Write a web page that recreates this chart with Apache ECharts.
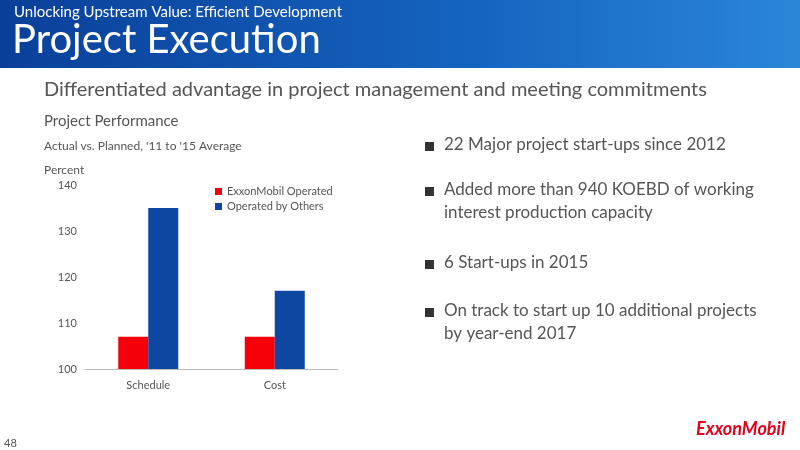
<!DOCTYPE html>
<html><head><meta charset="utf-8">
<script src="https://cdn.jsdelivr.net/npm/echarts@6/dist/echarts.min.js"></script>
<style>html,body{margin:0;padding:0;background:#fff}#c{width:800px;height:450px}</style>
</head><body><div id="c"></div>
<script>
const categories = ['Schedule', 'Cost'];
const exxonOperated = [107, 107];
const othersOperated = [135, 117];
const yTicks = [100, 110, 120, 130, 140];
const bullets = [
  ['22 Major project start-ups since 2012'],
  ['Added more than 940 KOEBD of working', 'interest production capacity'],
  ['6 Start-ups in 2015'],
  ['On track to start up 10 additional projects', 'by year-end 2017']
];
const bulletY = [147, 192, 265, 313];
const F = 'Lato, "Open Sans", sans-serif';
const chart = echarts.init(document.getElementById('c'));
const g = [
  {type:'rect', shape:{x:0,y:0,width:800,height:68}, style:{fill:new echarts.graphic.LinearGradient(0,0,1,0,[{offset:0,color:'#0a3f99'},{offset:0.6,color:'#1565c0'},{offset:1,color:'#2b86d8'}])}},
  {type:'text', left:14, top:5, style:{text:'Unlocking Upstream Value: Efficient Development', fill:'#fff', font:'15px '+F}},
  {type:'text', left:12, top:20, style:{text:'Project Execution', fill:'#fff', font:'40px '+F}},
  {type:'text', left:44, top:80, style:{text:'Differentiated advantage in project management and meeting commitments', fill:'#555', font:'20px '+F}},
  {type:'text', left:44, top:114, style:{text:'Project Performance', fill:'#555', font:'15px '+F}},
  {type:'text', left:44, top:140, style:{text:"Actual vs. Planned, '11 to '15 Average", fill:'#555', font:'12px '+F}},
  {type:'text', left:44, top:164, style:{text:'Percent', fill:'#555', font:'12px '+F}},
  {type:'text', left:4, top:438, style:{text:'48', fill:'#555', font:'11px '+F}},
  {type:'text', left:696, top:420, style:{text:'ExxonMobil', fill:'#e2001a', font:'bold italic 18px '+F}}
];
bullets.forEach((b,i)=>{
  g.push({type:'rect', shape:{x:425,y:bulletY[i]-5,width:9,height:9}, style:{fill:'#333'}});
  b.forEach((t,j)=>g.push({type:'text', left:444, top:bulletY[i]-11+j*23, style:{text:t, fill:'#555', font:'17px '+F}}));
});
chart.setOption({
  animation:false,
  graphic:g,
  grid:{left:85, right:462, top:185, bottom:81},
  legend:{orient:'vertical', left:210, top:181, itemWidth:7, itemHeight:7, itemGap:4, icon:'rect',
    textStyle:{color:'#555', fontSize:11, fontFamily:F}},
  xAxis:{type:'category', data:categories, axisTick:{show:false}, axisLine:{lineStyle:{color:'#bbb'}},
    axisLabel:{color:'#555', fontSize:11, fontFamily:F, margin:11}},
  yAxis:{type:'value', min:100, max:140, interval:10, splitLine:{show:false}, axisLine:{show:false},
    axisLabel:{color:'#555', fontSize:11, fontFamily:F, formatter:v=>yTicks.includes(v)?String(v):''}},
  series:[
    {name:'ExxonMobil Operated', type:'bar', data:exxonOperated, barWidth:30, barGap:'0%', itemStyle:{color:'#f5000a'}},
    {name:'Operated by Others', type:'bar', data:othersOperated, barWidth:30, itemStyle:{color:'#0d47a1'}}
  ]
});
</script></body></html>
